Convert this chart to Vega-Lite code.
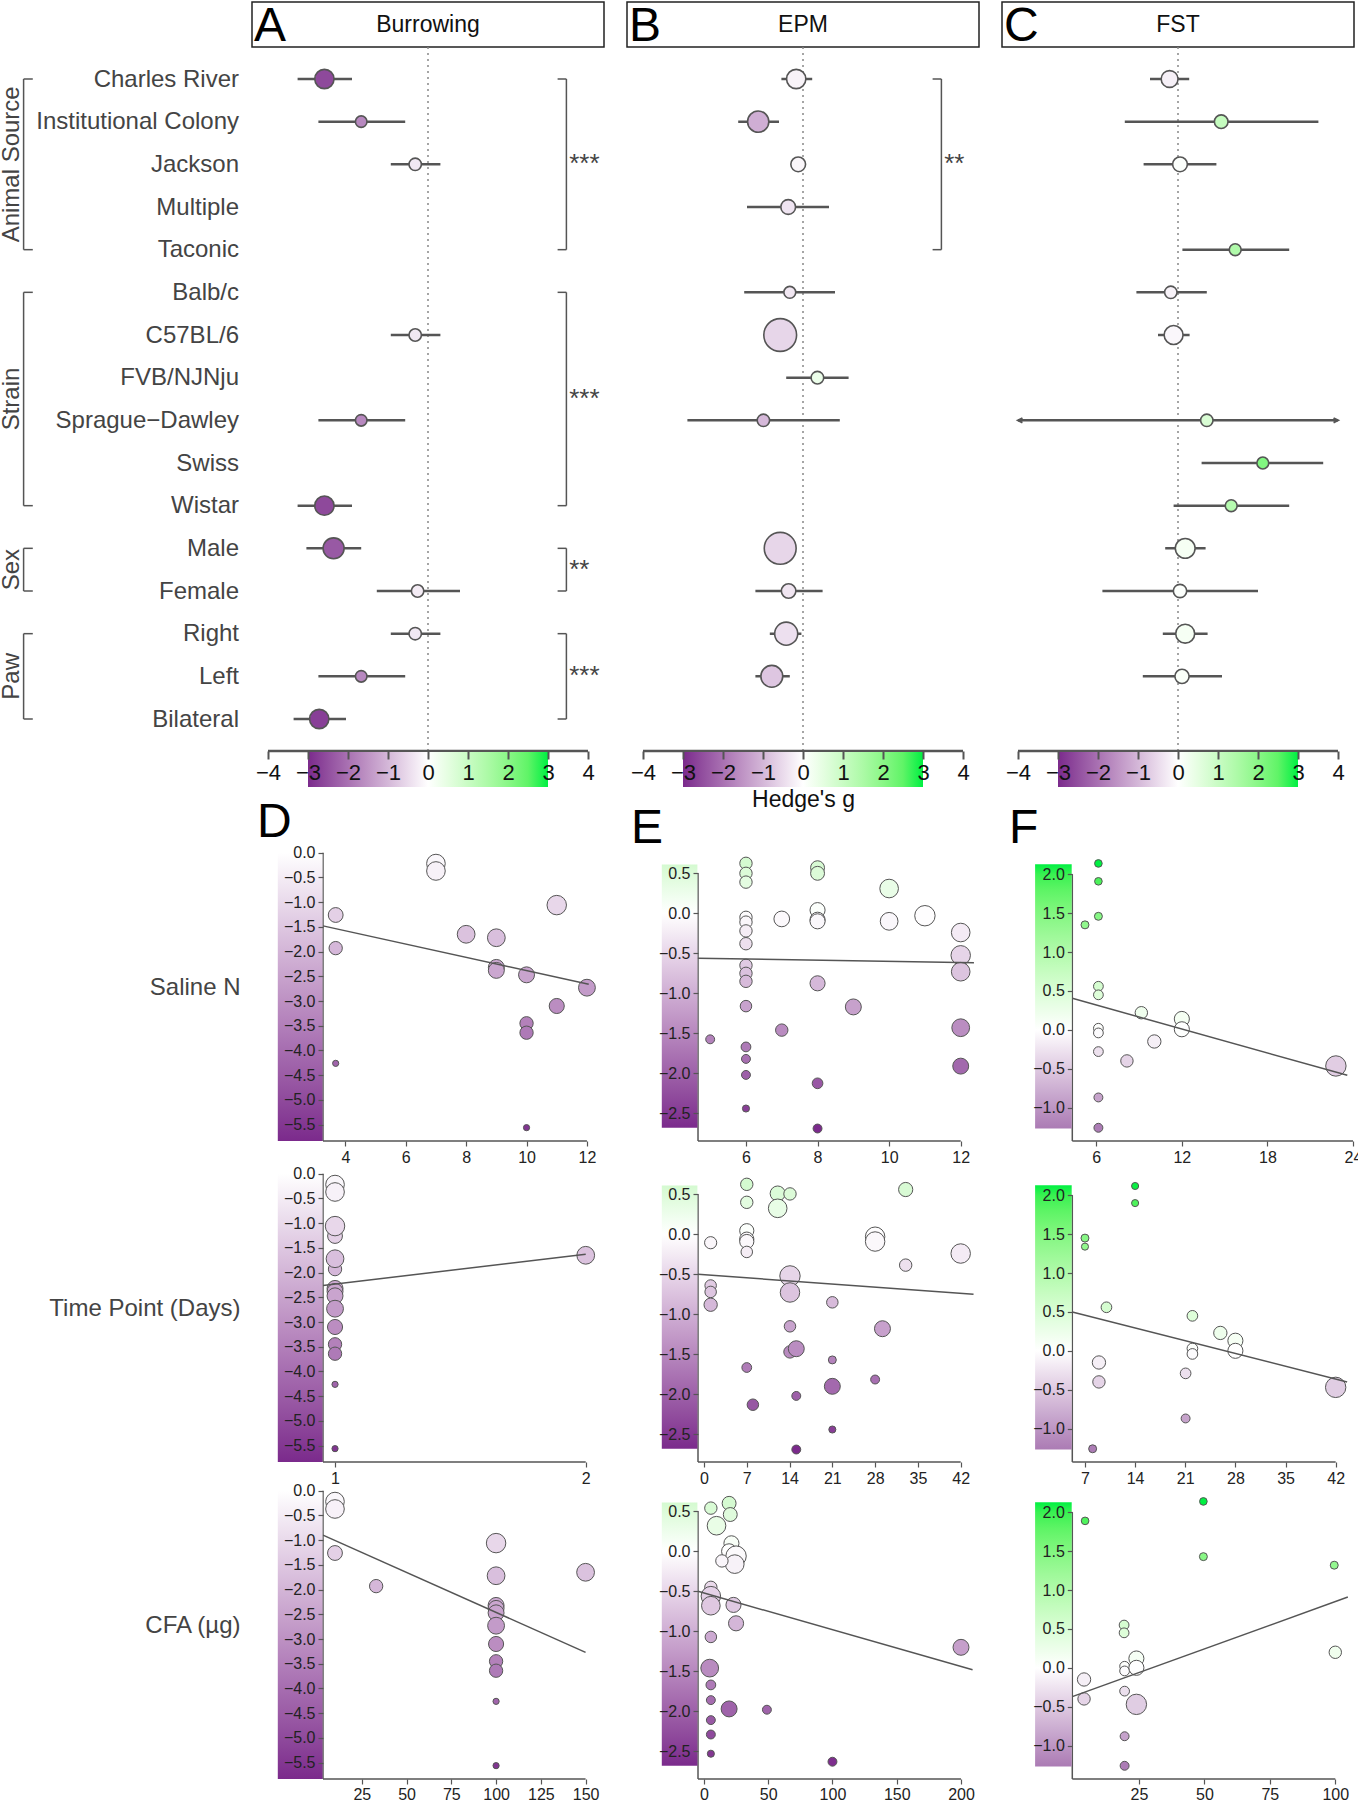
{
"$schema": "https://vega.github.io/schema/vega-lite/v6.json",
"background": "white",
"padding": {"left": 0, "top": 1, "right": 0, "bottom": 0},
"config": {"view": {"stroke": null}, "font": "Liberation Sans", "axis": {"grid": false, "zindex": 1, "tickCount": 30}, "legend": {"zindex": 0}},
"datasets": {
"headers": [{"panel":"A","title":"Burrowing"},{"panel":"B","title":"EPM"},{"panel":"C","title":"FST"}],
"forest": [
{"panel":"A","row":"Charles River","g":-2.59,"lo":-3.26,"hi":-1.9,"k":14},
{"panel":"A","row":"Institutional Colony","g":-1.67,"lo":-2.74,"hi":-0.57,"k":5},
{"panel":"A","row":"Jackson","g":-0.32,"lo":-0.93,"hi":0.31,"k":5.8},
{"panel":"A","row":"C57BL/6","g":-0.32,"lo":-0.93,"hi":0.31,"k":5.8},
{"panel":"A","row":"Sprague−Dawley","g":-1.67,"lo":-2.74,"hi":-0.57,"k":5},
{"panel":"A","row":"Wistar","g":-2.59,"lo":-3.26,"hi":-1.9,"k":14},
{"panel":"A","row":"Male","g":-2.36,"lo":-3.04,"hi":-1.67,"k":16.6},
{"panel":"A","row":"Female","g":-0.26,"lo":-1.28,"hi":0.8,"k":5.8},
{"panel":"A","row":"Right","g":-0.32,"lo":-0.93,"hi":0.31,"k":5.8},
{"panel":"A","row":"Left","g":-1.67,"lo":-2.74,"hi":-0.57,"k":5},
{"panel":"A","row":"Bilateral","g":-2.72,"lo":-3.36,"hi":-2.05,"k":14},
{"panel":"B","row":"Charles River","g":-0.17,"lo":-0.54,"hi":0.23,"k":14},
{"panel":"B","row":"Institutional Colony","g":-1.12,"lo":-1.62,"hi":-0.6,"k":17},
{"panel":"B","row":"Jackson","g":-0.12,"lo":-0.25,"hi":0.02,"k":8.2},
{"panel":"B","row":"Multiple","g":-0.37,"lo":-1.4,"hi":0.65,"k":8.2},
{"panel":"B","row":"Balb/c","g":-0.33,"lo":-1.47,"hi":0.8,"k":5.3},
{"panel":"B","row":"C57BL/6","g":-0.57,"lo":-0.75,"hi":-0.4,"k":40.6},
{"panel":"B","row":"FVB/NJNju","g":0.36,"lo":-0.42,"hi":1.14,"k":6},
{"panel":"B","row":"Sprague−Dawley","g":-0.99,"lo":-2.89,"hi":0.92,"k":5.8},
{"panel":"B","row":"Male","g":-0.57,"lo":-0.75,"hi":-0.4,"k":38.4},
{"panel":"B","row":"Female","g":-0.36,"lo":-1.19,"hi":0.49,"k":7.9},
{"panel":"B","row":"Right","g":-0.42,"lo":-0.83,"hi":-0.04,"k":20},
{"panel":"B","row":"Left","g":-0.78,"lo":-1.19,"hi":-0.33,"k":18},
{"panel":"C","row":"Charles River","g":-0.21,"lo":-0.7,"hi":0.28,"k":10.7},
{"panel":"C","row":"Institutional Colony","g":1.08,"lo":-1.33,"hi":3.51,"k":7},
{"panel":"C","row":"Jackson","g":0.05,"lo":-0.86,"hi":0.96,"k":8.2},
{"panel":"C","row":"Taconic","g":1.43,"lo":0.11,"hi":2.78,"k":5.3},
{"panel":"C","row":"Balb/c","g":-0.18,"lo":-1.04,"hi":0.72,"k":5.8},
{"panel":"C","row":"C57BL/6","g":-0.11,"lo":-0.5,"hi":0.29,"k":13.5},
{"panel":"C","row":"Sprague−Dawley","g":0.72,"lo":-4,"hi":4,"k":5.8},
{"panel":"C","row":"Swiss","g":2.12,"lo":0.59,"hi":3.63,"k":5.3},
{"panel":"C","row":"Wistar","g":1.33,"lo":-0.11,"hi":2.78,"k":5.3},
{"panel":"C","row":"Male","g":0.18,"lo":-0.32,"hi":0.69,"k":14.8},
{"panel":"C","row":"Female","g":0.05,"lo":-1.89,"hi":2.0,"k":6.7},
{"panel":"C","row":"Right","g":0.18,"lo":-0.38,"hi":0.74,"k":13.5},
{"panel":"C","row":"Left","g":0.1,"lo":-0.88,"hi":1.1,"k":7.6}
],
"brackets": [
{"panel":"A","group":"Animal Source","from":"Charles River","to":"Taconic","mid":"Jackson","stars":"***"},
{"panel":"A","group":"Strain","from":"Balb/c","to":"Wistar","mid":"FVB/NJNju","stars":"***"},
{"panel":"A","group":"Sex","from":"Male","to":"Female","mid":"Male","stars":"**"},
{"panel":"A","group":"Paw","from":"Right","to":"Bilateral","mid":"Left","stars":"***"},
{"panel":"B","group":"Animal Source","from":"Charles River","to":"Taconic","mid":"Jackson","stars":"**"}
],
"arrows": [
{"panel":"C","row":"Sprague−Dawley","x":-4,"side":"lo"},
{"panel":"C","row":"Sprague−Dawley","x":4,"side":"hi"}
],
"scatter": [
{"outcome":"Burrowing","moderator":"Saline N","x":7,"g":-0.22,"n":13.1},
{"outcome":"Burrowing","moderator":"Saline N","x":7,"g":-0.37,"n":13.1},
{"outcome":"Burrowing","moderator":"Saline N","x":3.68,"g":-1.26,"n":8.3},
{"outcome":"Burrowing","moderator":"Saline N","x":3.68,"g":-1.93,"n":6.7},
{"outcome":"Burrowing","moderator":"Saline N","x":3.68,"g":-4.26,"n":1.45},
{"outcome":"Burrowing","moderator":"Saline N","x":8,"g":-1.65,"n":11.9},
{"outcome":"Burrowing","moderator":"Saline N","x":9,"g":-1.72,"n":11.9},
{"outcome":"Burrowing","moderator":"Saline N","x":9,"g":-2.32,"n":9.6},
{"outcome":"Burrowing","moderator":"Saline N","x":9,"g":-2.38,"n":9.6},
{"outcome":"Burrowing","moderator":"Saline N","x":10,"g":-2.47,"n":9.6},
{"outcome":"Burrowing","moderator":"Saline N","x":10,"g":-3.45,"n":6.7},
{"outcome":"Burrowing","moderator":"Saline N","x":10,"g":-3.64,"n":6.7},
{"outcome":"Burrowing","moderator":"Saline N","x":10,"g":-5.56,"n":1.45},
{"outcome":"Burrowing","moderator":"Saline N","x":11,"g":-1.06,"n":14.3},
{"outcome":"Burrowing","moderator":"Saline N","x":11,"g":-3.1,"n":8.6},
{"outcome":"Burrowing","moderator":"Saline N","x":12,"g":-2.73,"n":10.7},
{"outcome":"Burrowing","moderator":"Time Point","x":1,"g":-0.22,"n":13.1},
{"outcome":"Burrowing","moderator":"Time Point","x":1,"g":-0.37,"n":13.1},
{"outcome":"Burrowing","moderator":"Time Point","x":1,"g":-1.26,"n":8.3},
{"outcome":"Burrowing","moderator":"Time Point","x":1,"g":-1.93,"n":6.7},
{"outcome":"Burrowing","moderator":"Time Point","x":1,"g":-4.26,"n":1.45},
{"outcome":"Burrowing","moderator":"Time Point","x":2,"g":-1.65,"n":11.9},
{"outcome":"Burrowing","moderator":"Time Point","x":1,"g":-1.72,"n":11.9},
{"outcome":"Burrowing","moderator":"Time Point","x":1,"g":-2.32,"n":9.6},
{"outcome":"Burrowing","moderator":"Time Point","x":1,"g":-2.38,"n":9.6},
{"outcome":"Burrowing","moderator":"Time Point","x":1,"g":-2.47,"n":9.6},
{"outcome":"Burrowing","moderator":"Time Point","x":1,"g":-3.45,"n":6.7},
{"outcome":"Burrowing","moderator":"Time Point","x":1,"g":-3.64,"n":6.7},
{"outcome":"Burrowing","moderator":"Time Point","x":1,"g":-5.56,"n":1.45},
{"outcome":"Burrowing","moderator":"Time Point","x":1,"g":-1.06,"n":14.3},
{"outcome":"Burrowing","moderator":"Time Point","x":1,"g":-3.1,"n":8.6},
{"outcome":"Burrowing","moderator":"Time Point","x":1,"g":-2.73,"n":10.7},
{"outcome":"Burrowing","moderator":"CFA","x":10,"g":-0.22,"n":13.1},
{"outcome":"Burrowing","moderator":"CFA","x":10,"g":-0.37,"n":13.1},
{"outcome":"Burrowing","moderator":"CFA","x":10,"g":-1.26,"n":8.3},
{"outcome":"Burrowing","moderator":"CFA","x":33,"g":-1.93,"n":6.7},
{"outcome":"Burrowing","moderator":"CFA","x":100,"g":-4.26,"n":1.45},
{"outcome":"Burrowing","moderator":"CFA","x":150,"g":-1.65,"n":11.9},
{"outcome":"Burrowing","moderator":"CFA","x":100,"g":-1.72,"n":11.9},
{"outcome":"Burrowing","moderator":"CFA","x":100,"g":-2.32,"n":9.6},
{"outcome":"Burrowing","moderator":"CFA","x":100,"g":-2.38,"n":9.6},
{"outcome":"Burrowing","moderator":"CFA","x":100,"g":-2.47,"n":9.6},
{"outcome":"Burrowing","moderator":"CFA","x":100,"g":-3.45,"n":6.7},
{"outcome":"Burrowing","moderator":"CFA","x":100,"g":-3.64,"n":6.7},
{"outcome":"Burrowing","moderator":"CFA","x":100,"g":-5.56,"n":1.45},
{"outcome":"Burrowing","moderator":"CFA","x":100,"g":-1.06,"n":14.3},
{"outcome":"Burrowing","moderator":"CFA","x":100,"g":-3.1,"n":8.6},
{"outcome":"Burrowing","moderator":"CFA","x":100,"g":-2.73,"n":10.7},
{"outcome":"EPM","moderator":"Saline N","x":6,"g":0.625,"n":5.8},
{"outcome":"EPM","moderator":"Saline N","x":6,"g":0.5,"n":5.8},
{"outcome":"EPM","moderator":"Saline N","x":6,"g":0.39,"n":5.8},
{"outcome":"EPM","moderator":"Saline N","x":6,"g":-0.05,"n":5.8},
{"outcome":"EPM","moderator":"Saline N","x":6,"g":-0.11,"n":5.8},
{"outcome":"EPM","moderator":"Saline N","x":6,"g":-0.22,"n":5.8},
{"outcome":"EPM","moderator":"Saline N","x":6,"g":-0.38,"n":5.8},
{"outcome":"EPM","moderator":"Saline N","x":6,"g":-0.65,"n":5.8},
{"outcome":"EPM","moderator":"Saline N","x":6,"g":-0.75,"n":5.8},
{"outcome":"EPM","moderator":"Saline N","x":6,"g":-0.85,"n":5.8},
{"outcome":"EPM","moderator":"Saline N","x":6,"g":-1.16,"n":5},
{"outcome":"EPM","moderator":"Saline N","x":6,"g":-1.67,"n":3.6},
{"outcome":"EPM","moderator":"Saline N","x":6,"g":-1.82,"n":3},
{"outcome":"EPM","moderator":"Saline N","x":6,"g":-2.02,"n":3},
{"outcome":"EPM","moderator":"Saline N","x":6,"g":-2.44,"n":1.9},
{"outcome":"EPM","moderator":"Saline N","x":5,"g":-1.575,"n":3},
{"outcome":"EPM","moderator":"Saline N","x":7,"g":-0.07,"n":9.3},
{"outcome":"EPM","moderator":"Saline N","x":7,"g":-1.46,"n":5.8},
{"outcome":"EPM","moderator":"Saline N","x":8,"g":0.57,"n":7.3},
{"outcome":"EPM","moderator":"Saline N","x":8,"g":0.5,"n":7.3},
{"outcome":"EPM","moderator":"Saline N","x":8,"g":0.04,"n":8.6},
{"outcome":"EPM","moderator":"Saline N","x":8,"g":-0.08,"n":8.6},
{"outcome":"EPM","moderator":"Saline N","x":8,"g":-0.1,"n":8.6},
{"outcome":"EPM","moderator":"Saline N","x":8,"g":-0.875,"n":8.6},
{"outcome":"EPM","moderator":"Saline N","x":8,"g":-2.125,"n":4.3},
{"outcome":"EPM","moderator":"Saline N","x":8,"g":-2.69,"n":3},
{"outcome":"EPM","moderator":"Saline N","x":9,"g":-1.17,"n":9.6},
{"outcome":"EPM","moderator":"Saline N","x":10,"g":0.31,"n":13.1},
{"outcome":"EPM","moderator":"Saline N","x":10,"g":-0.1,"n":11.9},
{"outcome":"EPM","moderator":"Saline N","x":11,"g":-0.03,"n":15.7},
{"outcome":"EPM","moderator":"Saline N","x":12,"g":-0.24,"n":13.1},
{"outcome":"EPM","moderator":"Saline N","x":12,"g":-0.525,"n":14.3},
{"outcome":"EPM","moderator":"Saline N","x":12,"g":-0.73,"n":13.1},
{"outcome":"EPM","moderator":"Saline N","x":12,"g":-1.43,"n":11.9},
{"outcome":"EPM","moderator":"Saline N","x":12,"g":-1.91,"n":9.6},
{"outcome":"EPM","moderator":"Time Point","x":1.09,"g":-0.105,"n":5.6},
{"outcome":"EPM","moderator":"Time Point","x":1.09,"g":-0.64,"n":5},
{"outcome":"EPM","moderator":"Time Point","x":1.09,"g":-0.72,"n":5},
{"outcome":"EPM","moderator":"Time Point","x":1.09,"g":-0.88,"n":6.7},
{"outcome":"EPM","moderator":"Time Point","x":7,"g":0.625,"n":5.8},
{"outcome":"EPM","moderator":"Time Point","x":7,"g":0.4,"n":5.8},
{"outcome":"EPM","moderator":"Time Point","x":7,"g":0.045,"n":7.6},
{"outcome":"EPM","moderator":"Time Point","x":7,"g":-0.06,"n":7.6},
{"outcome":"EPM","moderator":"Time Point","x":7,"g":-0.09,"n":7.6},
{"outcome":"EPM","moderator":"Time Point","x":7,"g":-0.22,"n":5},
{"outcome":"EPM","moderator":"Time Point","x":7,"g":-1.665,"n":3.6},
{"outcome":"EPM","moderator":"Time Point","x":8,"g":-2.13,"n":5},
{"outcome":"EPM","moderator":"Time Point","x":12.06,"g":0.51,"n":8.6},
{"outcome":"EPM","moderator":"Time Point","x":12.06,"g":0.325,"n":13.1},
{"outcome":"EPM","moderator":"Time Point","x":14.07,"g":0.505,"n":5.8},
{"outcome":"EPM","moderator":"Time Point","x":14.07,"g":-0.52,"n":15.7},
{"outcome":"EPM","moderator":"Time Point","x":14.07,"g":-0.727,"n":14.3},
{"outcome":"EPM","moderator":"Time Point","x":14.07,"g":-1.15,"n":5},
{"outcome":"EPM","moderator":"Time Point","x":14.07,"g":-1.47,"n":5.8},
{"outcome":"EPM","moderator":"Time Point","x":15.1,"g":-1.43,"n":9.6},
{"outcome":"EPM","moderator":"Time Point","x":15.1,"g":-2.02,"n":3},
{"outcome":"EPM","moderator":"Time Point","x":15.1,"g":-2.69,"n":3},
{"outcome":"EPM","moderator":"Time Point","x":21,"g":-0.85,"n":5},
{"outcome":"EPM","moderator":"Time Point","x":21,"g":-1.57,"n":2.4},
{"outcome":"EPM","moderator":"Time Point","x":21,"g":-1.9,"n":9.6},
{"outcome":"EPM","moderator":"Time Point","x":21,"g":-2.44,"n":1.9},
{"outcome":"EPM","moderator":"Time Point","x":28,"g":-1.815,"n":3},
{"outcome":"EPM","moderator":"Time Point","x":28,"g":-0.03,"n":14.3},
{"outcome":"EPM","moderator":"Time Point","x":28,"g":-0.09,"n":14.3},
{"outcome":"EPM","moderator":"Time Point","x":29.2,"g":-1.18,"n":9.6},
{"outcome":"EPM","moderator":"Time Point","x":33,"g":0.56,"n":7.6},
{"outcome":"EPM","moderator":"Time Point","x":33,"g":-0.385,"n":5.8},
{"outcome":"EPM","moderator":"Time Point","x":42,"g":-0.24,"n":14.3},
{"outcome":"EPM","moderator":"CFA","x":5.4,"g":0.54,"n":5.8},
{"outcome":"EPM","moderator":"CFA","x":19.6,"g":0.6,"n":7.3},
{"outcome":"EPM","moderator":"CFA","x":9.8,"g":0.32,"n":13.1},
{"outcome":"EPM","moderator":"CFA","x":20.5,"g":0.46,"n":7.3},
{"outcome":"EPM","moderator":"CFA","x":21.4,"g":0.1,"n":8.6},
{"outcome":"EPM","moderator":"CFA","x":19.6,"g":0.0,"n":8.6},
{"outcome":"EPM","moderator":"CFA","x":25,"g":-0.06,"n":15.7},
{"outcome":"EPM","moderator":"CFA","x":24,"g":-0.16,"n":13.1},
{"outcome":"EPM","moderator":"CFA","x":14,"g":-0.12,"n":5.8},
{"outcome":"EPM","moderator":"CFA","x":5.4,"g":-0.45,"n":5.8},
{"outcome":"EPM","moderator":"CFA","x":5.4,"g":-0.56,"n":14.3},
{"outcome":"EPM","moderator":"CFA","x":5.4,"g":-0.68,"n":13.1},
{"outcome":"EPM","moderator":"CFA","x":23,"g":-0.67,"n":8.6},
{"outcome":"EPM","moderator":"CFA","x":25,"g":-0.9,"n":8.6},
{"outcome":"EPM","moderator":"CFA","x":5.4,"g":-1.07,"n":5},
{"outcome":"EPM","moderator":"CFA","x":4.5,"g":-1.46,"n":11.9},
{"outcome":"EPM","moderator":"CFA","x":5.4,"g":-1.67,"n":3.6},
{"outcome":"EPM","moderator":"CFA","x":5.4,"g":-1.86,"n":3},
{"outcome":"EPM","moderator":"CFA","x":19.6,"g":-1.97,"n":9.6},
{"outcome":"EPM","moderator":"CFA","x":5.4,"g":-2.11,"n":3},
{"outcome":"EPM","moderator":"CFA","x":5.4,"g":-2.29,"n":3},
{"outcome":"EPM","moderator":"CFA","x":5.4,"g":-2.53,"n":1.9},
{"outcome":"EPM","moderator":"CFA","x":49,"g":-1.98,"n":3},
{"outcome":"EPM","moderator":"CFA","x":100,"g":-2.63,"n":3},
{"outcome":"EPM","moderator":"CFA","x":200,"g":-1.2,"n":9.6},
{"outcome":"FST","moderator":"Saline N","x":6.15,"g":2.14,"n":2.2},
{"outcome":"FST","moderator":"Saline N","x":6.15,"g":1.91,"n":2.2},
{"outcome":"FST","moderator":"Saline N","x":6.15,"g":1.46,"n":2.4},
{"outcome":"FST","moderator":"Saline N","x":5.21,"g":1.35,"n":2.4},
{"outcome":"FST","moderator":"Saline N","x":6.15,"g":0.56,"n":3.6},
{"outcome":"FST","moderator":"Saline N","x":6.15,"g":0.45,"n":3.6},
{"outcome":"FST","moderator":"Saline N","x":6.15,"g":0.02,"n":3.6},
{"outcome":"FST","moderator":"Saline N","x":6.15,"g":-0.04,"n":3.6},
{"outcome":"FST","moderator":"Saline N","x":6.15,"g":-0.28,"n":3.6},
{"outcome":"FST","moderator":"Saline N","x":6.15,"g":-0.87,"n":3},
{"outcome":"FST","moderator":"Saline N","x":6.15,"g":-1.26,"n":3},
{"outcome":"FST","moderator":"Saline N","x":8.15,"g":-0.4,"n":5.8},
{"outcome":"FST","moderator":"Saline N","x":9.16,"g":0.22,"n":5.8},
{"outcome":"FST","moderator":"Saline N","x":10.07,"g":-0.15,"n":6.7},
{"outcome":"FST","moderator":"Saline N","x":12,"g":0.14,"n":8.6},
{"outcome":"FST","moderator":"Saline N","x":12,"g":0.007,"n":8.6},
{"outcome":"FST","moderator":"Saline N","x":22.8,"g":-0.465,"n":15.7},
{"outcome":"FST","moderator":"Time Point","x":7,"g":1.45,"n":2.4},
{"outcome":"FST","moderator":"Time Point","x":7,"g":1.34,"n":1.9},
{"outcome":"FST","moderator":"Time Point","x":14,"g":2.12,"n":1.9},
{"outcome":"FST","moderator":"Time Point","x":14,"g":1.9,"n":1.9},
{"outcome":"FST","moderator":"Time Point","x":10,"g":0.56,"n":4.3},
{"outcome":"FST","moderator":"Time Point","x":8.95,"g":-0.15,"n":6.7},
{"outcome":"FST","moderator":"Time Point","x":8.95,"g":-0.4,"n":5.8},
{"outcome":"FST","moderator":"Time Point","x":8.07,"g":-1.26,"n":2.4},
{"outcome":"FST","moderator":"Time Point","x":22,"g":0.45,"n":4.3},
{"outcome":"FST","moderator":"Time Point","x":22,"g":0.03,"n":4.3},
{"outcome":"FST","moderator":"Time Point","x":22,"g":-0.04,"n":4.3},
{"outcome":"FST","moderator":"Time Point","x":21.05,"g":-0.29,"n":4.3},
{"outcome":"FST","moderator":"Time Point","x":21.05,"g":-0.87,"n":3},
{"outcome":"FST","moderator":"Time Point","x":25.9,"g":0.23,"n":6.7},
{"outcome":"FST","moderator":"Time Point","x":28,"g":0.13,"n":8.6},
{"outcome":"FST","moderator":"Time Point","x":28,"g":0.0,"n":8.6},
{"outcome":"FST","moderator":"Time Point","x":42,"g":-0.47,"n":15.7},
{"outcome":"FST","moderator":"CFA","x":49.6,"g":2.14,"n":2.2},
{"outcome":"FST","moderator":"CFA","x":4.4,"g":1.89,"n":2.2},
{"outcome":"FST","moderator":"CFA","x":49.6,"g":1.43,"n":2.4},
{"outcome":"FST","moderator":"CFA","x":99.6,"g":1.32,"n":2.4},
{"outcome":"FST","moderator":"CFA","x":19.3,"g":0.55,"n":3.6},
{"outcome":"FST","moderator":"CFA","x":19.3,"g":0.45,"n":3.6},
{"outcome":"FST","moderator":"CFA","x":19.5,"g":0.02,"n":3.6},
{"outcome":"FST","moderator":"CFA","x":19.5,"g":-0.04,"n":3.6},
{"outcome":"FST","moderator":"CFA","x":19.5,"g":-0.3,"n":3.6},
{"outcome":"FST","moderator":"CFA","x":19.5,"g":-0.88,"n":3},
{"outcome":"FST","moderator":"CFA","x":19.5,"g":-1.26,"n":3},
{"outcome":"FST","moderator":"CFA","x":4,"g":-0.4,"n":5.8},
{"outcome":"FST","moderator":"CFA","x":100,"g":0.2,"n":5.8},
{"outcome":"FST","moderator":"CFA","x":4,"g":-0.15,"n":6.7},
{"outcome":"FST","moderator":"CFA","x":24,"g":0.12,"n":8.6},
{"outcome":"FST","moderator":"CFA","x":24,"g":0.0,"n":8.6},
{"outcome":"FST","moderator":"CFA","x":24,"g":-0.47,"n":15.7}
],
"fits": [
{"outcome":"Burrowing","moderator":"Saline N","x":3.26,"g":-1.48},
{"outcome":"Burrowing","moderator":"Saline N","x":12.06,"g":-2.66},
{"outcome":"Burrowing","moderator":"Time Point","x":0.952,"g":-2.26},
{"outcome":"Burrowing","moderator":"Time Point","x":2,"g":-1.63},
{"outcome":"Burrowing","moderator":"CFA","x":3.3,"g":-0.9},
{"outcome":"Burrowing","moderator":"CFA","x":150,"g":-3.27},
{"outcome":"EPM","moderator":"Saline N","x":4.65,"g":-0.5625},
{"outcome":"EPM","moderator":"Saline N","x":12.37,"g":-0.617},
{"outcome":"EPM","moderator":"Time Point","x":-0.98,"g":-0.5},
{"outcome":"EPM","moderator":"Time Point","x":44.1,"g":-0.75},
{"outcome":"EPM","moderator":"CFA","x":-4.6,"g":-0.5},
{"outcome":"EPM","moderator":"CFA","x":209,"g":-1.48},
{"outcome":"FST","moderator":"Saline N","x":4.32,"g":0.405},
{"outcome":"FST","moderator":"Saline N","x":23.6,"g":-0.585},
{"outcome":"FST","moderator":"Time Point","x":5.23,"g":0.5},
{"outcome":"FST","moderator":"Time Point","x":43.6,"g":-0.4},
{"outcome":"FST","moderator":"CFA","x":-0.49,"g":-0.37},
{"outcome":"FST","moderator":"CFA","x":104.8,"g":0.91}
]
},
"columns": 3,
"spacing": {"row": 0, "column": 23},
"bounds": "flush",
"align": {"row": "each", "column": "all"},
"resolve": {"scale": {"fill": "independent", "size": "independent", "shape": "independent"}, "legend": {"fill": "independent", "size": "independent", "shape": "independent"}},
"concat": [
{"width": 352, "height": 45, "view": {"stroke": "#222", "strokeWidth": 1.5}, "data": {"name": "headers"}, "transform": [{"filter": "datum.panel === 'A'"}],
 "layer": [
  {"mark": {"type": "text", "align": "left", "baseline": "middle", "fontSize": 48, "dx": 2, "dy": 2, "color": "#000"}, "encoding": {"x": {"datum": -4.4, "scale": {"domain": [-4.4, 4.4], "nice": false, "zero": false}, "axis": null}, "text": {"field": "panel"}}},
  {"mark": {"type": "text", "align": "center", "baseline": "middle", "fontSize": 23, "color": "#111"}, "encoding": {"x": {"datum": 0}, "text": {"field": "title"}}}
 ]},
{"width": 352, "height": 45, "view": {"stroke": "#222", "strokeWidth": 1.5}, "data": {"name": "headers"}, "transform": [{"filter": "datum.panel === 'B'"}],
 "layer": [
  {"mark": {"type": "text", "align": "left", "baseline": "middle", "fontSize": 48, "dx": 2, "dy": 2, "color": "#000"}, "encoding": {"x": {"datum": -4.4, "scale": {"domain": [-4.4, 4.4], "nice": false, "zero": false}, "axis": null}, "text": {"field": "panel"}}},
  {"mark": {"type": "text", "align": "center", "baseline": "middle", "fontSize": 23, "color": "#111"}, "encoding": {"x": {"datum": 0}, "text": {"field": "title"}}}
 ]},
{"width": 352, "height": 45, "view": {"stroke": "#222", "strokeWidth": 1.5}, "data": {"name": "headers"}, "transform": [{"filter": "datum.panel === 'C'"}],
 "layer": [
  {"mark": {"type": "text", "align": "left", "baseline": "middle", "fontSize": 48, "dx": 2, "dy": 2, "color": "#000"}, "encoding": {"x": {"datum": -4.4, "scale": {"domain": [-4.4, 4.4], "nice": false, "zero": false}, "axis": null}, "text": {"field": "panel"}}},
  {"mark": {"type": "text", "align": "center", "baseline": "middle", "fontSize": 23, "color": "#111"}, "encoding": {"x": {"datum": 0}, "text": {"field": "title"}}}
 ]},
{"width": 352, "height": 704,
 "resolve": {"scale": {"y": "independent"}},
 "layer": [
 {"layer": [
  {"data": {"values": [{}]}, "mark": {"type": "rule", "stroke": "#888", "strokeWidth": 1.5, "strokeDash": [2, 4]}, "encoding": {"x": {"datum": 0, "type": "quantitative", "scale": {"domain": [-4.4, 4.4], "nice": false, "zero": false}, "axis": {"values": [-4,-3,-2,-1,0,1,2,3,4], "format": "d", "tickCount": 30, "title": null, "domain": false, "tickColor": "#555", "tickWidth": 2, "tickSize": 8, "labelFontSize": 22, "labelColor": "#111", "labelPadding": 3, "zindex": 1, "labelFlush": false, "labelOverlap": false}}}},
  {"data": {"name": "forest"}, "transform": [{"filter": "datum.panel === 'A'"}], "mark": {"type": "rule", "stroke": "#555", "strokeWidth": 2.5},
   "encoding": {"x": {"field": "lo", "type": "quantitative"}, "x2": {"field": "hi"},
    "y": {"field": "row", "type": "nominal", "scale": {"type": "point", "domain": ["Charles River","Institutional Colony","Jackson","Multiple","Taconic","Balb/c","C57BL/6","FVB/NJNju","Sprague−Dawley","Swiss","Wistar","Male","Female","Right","Left","Bilateral"], "padding": 0.75}, "axis": {"title": null, "domain": false, "ticks": false, "labelFontSize": 24, "labelColor": "#444", "labelPadding": 13.5, "labelLimit": 400}}}},
  {"data": {"name": "forest"}, "transform": [{"filter": "datum.panel === 'A'"}], "mark": {"type": "circle", "stroke": "#555", "strokeWidth": 1.6, "opacity": 1},
   "encoding": {"x": {"field": "g", "type": "quantitative"}, "y": {"field": "row", "type": "nominal"},
    "fill": {"field": "g", "type": "quantitative", "scale": {"domain": [-3, 0, 3], "range": ["#7b2a8c", "#ffffff", "#00f042"], "interpolate": "lab", "clamp": true}, "legend": {"orient": "none", "direction": "horizontal", "legendX": 56, "legendY": 705, "gradientLength": 240, "gradientThickness": 35, "title": null, "labelExpr": "''", "gradientStrokeWidth": 0, "padding": 0, "zindex": 0}},
    "size": {"field": "k", "type": "quantitative", "scale": {"domain": [0, 40], "range": [0, 1060]}, "legend": null}}},
  {"data": {"name": "brackets"}, "transform": [{"filter": "datum.panel === 'A'"}], "mark": {"type": "rule", "stroke": "#555", "strokeWidth": 1.5}, "encoding": {"x": {"datum": -10.11}, "y": {"field": "from", "type": "nominal"}, "y2": {"field": "to"}}},
  {"data": {"name": "brackets"}, "transform": [{"filter": "datum.panel === 'A'"}], "mark": {"type": "rule", "stroke": "#555", "strokeWidth": 1.5}, "encoding": {"x": {"datum": -10.11}, "x2": {"datum": -9.88}, "y": {"field": "from", "type": "nominal"}}},
  {"data": {"name": "brackets"}, "transform": [{"filter": "datum.panel === 'A'"}], "mark": {"type": "rule", "stroke": "#555", "strokeWidth": 1.5}, "encoding": {"x": {"datum": -10.11}, "x2": {"datum": -9.88}, "y": {"field": "to", "type": "nominal"}}},
  {"data": {"name": "brackets"}, "transform": [{"filter": "datum.panel === 'A' && (datum.group === 'Animal Source' || datum.group === 'Paw')"}], "mark": {"type": "text", "angle": 270, "fontSize": 24, "color": "#444", "align": "center", "baseline": "middle"}, "encoding": {"x": {"datum": -10.4}, "y": {"field": "mid", "type": "nominal"}, "text": {"field": "group"}}},
  {"data": {"name": "brackets"}, "transform": [{"filter": "datum.panel === 'A' && (datum.group === 'Strain' || datum.group === 'Sex')"}], "mark": {"type": "text", "angle": 270, "fontSize": 24, "color": "#444", "align": "center", "baseline": "middle", "dx": -21.33}, "encoding": {"x": {"datum": -10.4}, "y": {"field": "mid", "type": "nominal"}, "text": {"field": "group"}}},
  {"data": {"name": "brackets"}, "transform": [{"filter": "datum.panel === 'A'"}], "mark": {"type": "rule", "stroke": "#555", "strokeWidth": 1.5}, "encoding": {"x": {"datum": 3.46}, "y": {"field": "from", "type": "nominal"}, "y2": {"field": "to"}}},
  {"data": {"name": "brackets"}, "transform": [{"filter": "datum.panel === 'A'"}], "mark": {"type": "rule", "stroke": "#555", "strokeWidth": 1.5}, "encoding": {"x": {"datum": 3.24}, "x2": {"datum": 3.46}, "y": {"field": "from", "type": "nominal"}}},
  {"data": {"name": "brackets"}, "transform": [{"filter": "datum.panel === 'A'"}], "mark": {"type": "rule", "stroke": "#555", "strokeWidth": 1.5}, "encoding": {"x": {"datum": 3.24}, "x2": {"datum": 3.46}, "y": {"field": "to", "type": "nominal"}}},
  {"data": {"name": "brackets"}, "transform": [{"filter": "datum.panel === 'A' && (datum.group === 'Animal Source' || datum.group === 'Paw')"}], "mark": {"type": "text", "fontSize": 26, "color": "#444", "align": "left", "baseline": "middle", "dy": 0}, "encoding": {"x": {"datum": 3.53}, "y": {"field": "mid", "type": "nominal"}, "text": {"field": "stars"}}},
  {"data": {"name": "brackets"}, "transform": [{"filter": "datum.panel === 'A' && (datum.group === 'Strain' || datum.group === 'Sex')"}], "mark": {"type": "text", "fontSize": 26, "color": "#444", "align": "left", "baseline": "middle", "dy": 21.3}, "encoding": {"x": {"datum": 3.53}, "y": {"field": "mid", "type": "nominal"}, "text": {"field": "stars"}}}
 ]},
 {"data": {"values": [{}]}, "mark": {"type": "rule", "stroke": "#555", "strokeWidth": 2.5}, "encoding": {"x": {"datum": -4}, "x2": {"datum": 4}, "y": {"datum": 0, "type": "quantitative", "scale": {"domain": [0, 1]}, "axis": null}}}
 ]},
{"width": 352, "height": 704,
 "resolve": {"scale": {"y": "independent"}},
 "layer": [
 {"layer": [
  {"data": {"values": [{}]}, "mark": {"type": "rule", "stroke": "#888", "strokeWidth": 1.5, "strokeDash": [2, 4]}, "encoding": {"x": {"datum": 0, "type": "quantitative", "scale": {"domain": [-4.4, 4.4], "nice": false, "zero": false}, "axis": {"values": [-4,-3,-2,-1,0,1,2,3,4], "format": "d", "tickCount": 30, "title": "Hedge's g", "titleFontSize": 23, "titleFontWeight": "normal", "titleColor": "#111", "titlePadding": 5, "domain": false, "tickColor": "#555", "tickWidth": 2, "tickSize": 8, "labelFontSize": 22, "labelColor": "#111", "labelPadding": 3, "zindex": 1, "labelFlush": false, "labelOverlap": false}}}},
  {"data": {"name": "forest"}, "transform": [{"filter": "datum.panel === 'B'"}], "mark": {"type": "rule", "stroke": "#555", "strokeWidth": 2.5},
   "encoding": {"x": {"field": "lo", "type": "quantitative"}, "x2": {"field": "hi"},
    "y": {"field": "row", "type": "nominal", "scale": {"type": "point", "domain": ["Charles River","Institutional Colony","Jackson","Multiple","Taconic","Balb/c","C57BL/6","FVB/NJNju","Sprague−Dawley","Swiss","Wistar","Male","Female","Right","Left","Bilateral"], "padding": 0.75}, "axis": null}}},
  {"data": {"name": "forest"}, "transform": [{"filter": "datum.panel === 'B'"}], "mark": {"type": "circle", "stroke": "#555", "strokeWidth": 1.6, "opacity": 1},
   "encoding": {"x": {"field": "g", "type": "quantitative"}, "y": {"field": "row", "type": "nominal"},
    "fill": {"field": "g", "type": "quantitative", "scale": {"domain": [-3, 0, 3], "range": ["#7b2a8c", "#ffffff", "#00f042"], "interpolate": "lab", "clamp": true}, "legend": {"orient": "none", "direction": "horizontal", "legendX": 56, "legendY": 705, "gradientLength": 240, "gradientThickness": 35, "title": null, "labelExpr": "''", "gradientStrokeWidth": 0, "padding": 0, "zindex": 0}},
    "size": {"field": "k", "type": "quantitative", "scale": {"domain": [0, 40], "range": [0, 1060]}, "legend": null}}},
  {"data": {"name": "brackets"}, "transform": [{"filter": "datum.panel === 'B'"}], "mark": {"type": "rule", "stroke": "#555", "strokeWidth": 1.5}, "encoding": {"x": {"datum": 3.46}, "y": {"field": "from", "type": "nominal"}, "y2": {"field": "to"}}},
  {"data": {"name": "brackets"}, "transform": [{"filter": "datum.panel === 'B'"}], "mark": {"type": "rule", "stroke": "#555", "strokeWidth": 1.5}, "encoding": {"x": {"datum": 3.24}, "x2": {"datum": 3.46}, "y": {"field": "from", "type": "nominal"}}},
  {"data": {"name": "brackets"}, "transform": [{"filter": "datum.panel === 'B'"}], "mark": {"type": "rule", "stroke": "#555", "strokeWidth": 1.5}, "encoding": {"x": {"datum": 3.24}, "x2": {"datum": 3.46}, "y": {"field": "to", "type": "nominal"}}},
  {"data": {"name": "brackets"}, "transform": [{"filter": "datum.panel === 'B'"}], "mark": {"type": "text", "fontSize": 26, "color": "#444", "align": "left", "baseline": "middle", "dy": 0}, "encoding": {"x": {"datum": 3.53}, "y": {"field": "mid", "type": "nominal"}, "text": {"field": "stars"}}}
 ]},
 {"data": {"values": [{}]}, "mark": {"type": "rule", "stroke": "#555", "strokeWidth": 2.5}, "encoding": {"x": {"datum": -4}, "x2": {"datum": 4}, "y": {"datum": 0, "type": "quantitative", "scale": {"domain": [0, 1]}, "axis": null}}}
 ]},
{"width": 352, "height": 704,
 "resolve": {"scale": {"y": "independent"}},
 "layer": [
 {"layer": [
  {"data": {"values": [{}]}, "mark": {"type": "rule", "stroke": "#888", "strokeWidth": 1.5, "strokeDash": [2, 4]}, "encoding": {"x": {"datum": 0, "type": "quantitative", "scale": {"domain": [-4.4, 4.4], "nice": false, "zero": false}, "axis": {"values": [-4,-3,-2,-1,0,1,2,3,4], "format": "d", "tickCount": 30, "title": null, "domain": false, "tickColor": "#555", "tickWidth": 2, "tickSize": 8, "labelFontSize": 22, "labelColor": "#111", "labelPadding": 3, "zindex": 1, "labelFlush": false, "labelOverlap": false}}}},
  {"data": {"name": "forest"}, "transform": [{"filter": "datum.panel === 'C'"}], "mark": {"type": "rule", "stroke": "#555", "strokeWidth": 2.5},
   "encoding": {"x": {"field": "lo", "type": "quantitative"}, "x2": {"field": "hi"},
    "y": {"field": "row", "type": "nominal", "scale": {"type": "point", "domain": ["Charles River","Institutional Colony","Jackson","Multiple","Taconic","Balb/c","C57BL/6","FVB/NJNju","Sprague−Dawley","Swiss","Wistar","Male","Female","Right","Left","Bilateral"], "padding": 0.75}, "axis": null}}},
  {"data": {"name": "arrows"}, "mark": {"type": "point", "filled": false, "stroke": "#555", "strokeWidth": 2, "opacity": 1, "size": 80},
   "encoding": {"x": {"field": "x", "type": "quantitative"}, "y": {"field": "row", "type": "nominal"}, "shape": {"field": "side", "type": "nominal", "scale": {"domain": ["lo", "hi"], "range": ["M1,-0.5L0,0L1,0.5", "M-1,-0.5L0,0L-1,0.5"]}, "legend": null}}},
  {"data": {"name": "forest"}, "transform": [{"filter": "datum.panel === 'C'"}], "mark": {"type": "circle", "stroke": "#555", "strokeWidth": 1.6, "opacity": 1},
   "encoding": {"x": {"field": "g", "type": "quantitative"}, "y": {"field": "row", "type": "nominal"},
    "fill": {"field": "g", "type": "quantitative", "scale": {"domain": [-3, 0, 3], "range": ["#7b2a8c", "#ffffff", "#00f042"], "interpolate": "lab", "clamp": true}, "legend": {"orient": "none", "direction": "horizontal", "legendX": 56, "legendY": 705, "gradientLength": 240, "gradientThickness": 35, "title": null, "labelExpr": "''", "gradientStrokeWidth": 0, "padding": 0, "zindex": 0}},
    "size": {"field": "k", "type": "quantitative", "scale": {"domain": [0, 40], "range": [0, 1060]}, "legend": null}}}
 ]},
 {"data": {"values": [{}]}, "mark": {"type": "rule", "stroke": "#555", "strokeWidth": 2.5}, "encoding": {"x": {"datum": -4}, "x2": {"datum": 4}, "y": {"datum": 0, "type": "quantitative", "scale": {"domain": [0, 1]}, "axis": null}}}
 ]},
{"width": 10, "height": 100, "data": {"values": [{}]}, "mark": {"type": "point", "opacity": 0}},
{"width": 10, "height": 100, "data": {"values": [{}]}, "mark": {"type": "point", "opacity": 0}},
{"width": 10, "height": 100, "data": {"values": [{}]}, "mark": {"type": "point", "opacity": 0}},
{"width": 352, "height": 290,
 "title": {"text": "D", "anchor": "start", "frame": "group", "fontSize": 48, "fontWeight": "normal", "color": "#000", "dx": 5, "dy": 43, "offset": 3, "baseline": "alphabetic"},
 "layer": [
  {"data": {"values": [{}]}, "mark": {"type": "rule", "stroke": "#555", "strokeWidth": 1.5}, "encoding": {"x": {"datum": 3.26, "type": "quantitative", "scale": {"domain": [0.909, 12.565], "nice": false, "zero": false}, "axis": {"values": [4,6,8,10,12], "format": "d", "tickCount": 30, "title": null, "domain": false, "tickColor": "#555", "tickWidth": 1.2, "tickSize": 5, "labelFontSize": 16, "labelColor": "#222", "labelPadding": 3, "zindex": 1, "labelFlush": false, "labelOverlap": false}}, "y": {"datum": 0, "type": "quantitative", "scale": {"domain": [-5.83, 0.034], "nice": false, "zero": false}, "axis": {"values": [0,-0.5,-1,-1.5,-2,-2.5,-3,-3.5,-4,-4.5,-5,-5.5], "tickCount": 30, "format": ".1f", "domain": false, "offset": -71, "tickColor": "#555", "tickWidth": 1.2, "tickSize": 5, "labelFontSize": 16, "labelColor": "#222", "labelPadding": 3, "zindex": 1, "labelOverlap": false, "title": "Saline N", "titleAngle": 0, "titleAlign": "right", "titleBaseline": "middle", "titleX": -83, "titleY": 136, "titleFontSize": 24, "titleFontWeight": "normal", "titleColor": "#444"}}, "y2": {"datum": -5.83}}},
  {"data": {"values": [{}]}, "mark": {"type": "rule", "stroke": "#555", "strokeWidth": 1.5}, "encoding": {"x": {"datum": 3.26}, "x2": {"datum": 12}, "y": {"datum": -5.83}}},
  {"data": {"name": "scatter"}, "transform": [{"filter": "datum.outcome === 'Burrowing' && datum.moderator === 'Saline N'"}], "mark": {"type": "circle", "stroke": "#555", "strokeWidth": 1, "opacity": 1},
   "encoding": {"x": {"field": "x", "type": "quantitative"}, "y": {"field": "g", "type": "quantitative"},
    "fill": {"field": "g", "type": "quantitative", "scale": {"domain": [-5.83, 0], "range": ["#7b2a8c", "#ffffff"], "interpolate": "lab", "clamp": true}, "legend": {"orient": "none", "direction": "vertical", "legendX": 25.8, "legendY": 1.7, "gradientLength": 288.3, "gradientThickness": 44.7, "title": null, "labelExpr": "''", "gradientStrokeWidth": 0, "padding": 0, "zindex": 0}},
    "size": {"field": "n", "type": "quantitative", "scale": {"domain": [0, 40], "range": [0, 1060]}, "legend": null}}},
  {"data": {"name": "fits"}, "transform": [{"filter": "datum.outcome === 'Burrowing' && datum.moderator === 'Saline N'"}], "mark": {"type": "line", "stroke": "#555", "strokeWidth": 1.5}, "encoding": {"x": {"field": "x", "type": "quantitative"}, "y": {"field": "g", "type": "quantitative"}}}
 ]},
{"width": 352, "height": 290,
 "title": {"text": "E", "anchor": "start", "frame": "group", "fontSize": 48, "fontWeight": "normal", "color": "#000", "dx": 4, "dy": 43, "offset": 3, "baseline": "alphabetic"},
 "layer": [
  {"data": {"values": [{}]}, "mark": {"type": "rule", "stroke": "#555", "strokeWidth": 1.5}, "encoding": {"x": {"datum": 4.66, "type": "quantitative", "scale": {"domain": [2.676, 12.511], "nice": false, "zero": false}, "axis": {"values": [6,8,10,12], "format": "d", "tickCount": 30, "title": null, "domain": false, "tickColor": "#555", "tickWidth": 1.2, "tickSize": 5, "labelFontSize": 16, "labelColor": "#222", "labelPadding": 3, "zindex": 1, "labelFlush": false, "labelOverlap": false}}, "y": {"datum": 0.5, "type": "quantitative", "scale": {"domain": [-2.846, 0.779], "nice": false, "zero": false}, "axis": {"values": [0.5,0,-0.5,-1,-1.5,-2,-2.5], "tickCount": 30, "format": ".1f", "domain": false, "offset": -71, "tickColor": "#555", "tickWidth": 1.2, "tickSize": 5, "labelFontSize": 16, "labelColor": "#222", "labelPadding": 3, "zindex": 1, "labelOverlap": false, "title": null}}, "y2": {"datum": -2.846}}},
  {"data": {"values": [{}]}, "mark": {"type": "rule", "stroke": "#555", "strokeWidth": 1.5}, "encoding": {"x": {"datum": 4.66}, "x2": {"datum": 12}, "y": {"datum": -2.846}}},
  {"data": {"name": "scatter"}, "transform": [{"filter": "datum.outcome === 'EPM' && datum.moderator === 'Saline N'"}], "mark": {"type": "circle", "stroke": "#555", "strokeWidth": 1, "opacity": 1},
   "encoding": {"x": {"field": "x", "type": "quantitative"}, "y": {"field": "g", "type": "quantitative"},
    "fill": {"field": "g", "type": "quantitative", "scale": {"domain": [-2.68, 0, 0.61], "range": ["#7b2a8c", "#ffffff", "#d4fad0"], "interpolate": "lab", "clamp": true}, "legend": {"orient": "none", "direction": "vertical", "legendX": 34.8, "legendY": 13.5, "gradientLength": 263.2, "gradientThickness": 35.6, "title": null, "labelExpr": "''", "gradientStrokeWidth": 0, "padding": 0, "zindex": 0}},
    "size": {"field": "n", "type": "quantitative", "scale": {"domain": [0, 40], "range": [0, 1060]}, "legend": null}}},
  {"data": {"name": "fits"}, "transform": [{"filter": "datum.outcome === 'EPM' && datum.moderator === 'Saline N'"}], "mark": {"type": "line", "stroke": "#555", "strokeWidth": 1.5}, "encoding": {"x": {"field": "x", "type": "quantitative"}, "y": {"field": "g", "type": "quantitative"}}}
 ]},
{"width": 352, "height": 290,
 "title": {"text": "F", "anchor": "start", "frame": "group", "fontSize": 48, "fontWeight": "normal", "color": "#000", "dx": 7, "dy": 43, "offset": 3, "baseline": "alphabetic"},
 "layer": [
  {"data": {"values": [{}]}, "mark": {"type": "rule", "stroke": "#555", "strokeWidth": 1.5}, "encoding": {"x": {"datum": 4.32, "type": "quantitative", "scale": {"domain": [-0.609, 24.07], "nice": false, "zero": false}, "axis": {"values": [6,12,18,24], "format": "d", "tickCount": 30, "title": null, "domain": false, "tickColor": "#555", "tickWidth": 1.2, "tickSize": 5, "labelFontSize": 16, "labelColor": "#222", "labelPadding": 3, "zindex": 1, "labelFlush": false, "labelOverlap": false}}, "y": {"datum": 2, "type": "quantitative", "scale": {"domain": [-1.43, 2.3], "nice": false, "zero": false}, "axis": {"values": [2,1.5,1,0.5,0,-0.5,-1], "tickCount": 30, "format": ".1f", "domain": false, "offset": -70.3, "tickColor": "#555", "tickWidth": 1.2, "tickSize": 5, "labelFontSize": 16, "labelColor": "#222", "labelPadding": 3, "zindex": 1, "labelOverlap": false, "title": null}}, "y2": {"datum": -1.43}}},
  {"data": {"values": [{}]}, "mark": {"type": "rule", "stroke": "#555", "strokeWidth": 1.5}, "encoding": {"x": {"datum": 4.32}, "x2": {"datum": 24}, "y": {"datum": -1.43}}},
  {"data": {"name": "scatter"}, "transform": [{"filter": "datum.outcome === 'FST' && datum.moderator === 'Saline N'"}], "mark": {"type": "circle", "stroke": "#555", "strokeWidth": 1, "opacity": 1},
   "encoding": {"x": {"field": "x", "type": "quantitative"}, "y": {"field": "g", "type": "quantitative"},
    "fill": {"field": "g", "type": "quantitative", "scale": {"domain": [-1.27, 0, 2.13], "range": ["#ab7bb4", "#ffffff", "#00f042"], "interpolate": "lab", "clamp": true}, "legend": {"orient": "none", "direction": "vertical", "legendX": 33.1, "legendY": 13.2, "gradientLength": 264.4, "gradientThickness": 36.6, "title": null, "labelExpr": "''", "gradientStrokeWidth": 0, "padding": 0, "zindex": 0}},
    "size": {"field": "n", "type": "quantitative", "scale": {"domain": [0, 40], "range": [0, 1060]}, "legend": null}}},
  {"data": {"name": "fits"}, "transform": [{"filter": "datum.outcome === 'FST' && datum.moderator === 'Saline N'"}], "mark": {"type": "line", "stroke": "#555", "strokeWidth": 1.5}, "encoding": {"x": {"field": "x", "type": "quantitative"}, "y": {"field": "g", "type": "quantitative"}}}
 ]},
{"width": 10, "height": 31, "data": {"values": [{}]}, "mark": {"type": "point", "opacity": 0}},
{"width": 10, "height": 31, "data": {"values": [{}]}, "mark": {"type": "point", "opacity": 0}},
{"width": 10, "height": 31, "data": {"values": [{}]}, "mark": {"type": "point", "opacity": 0}},
{"width": 352, "height": 290,
 "layer": [
  {"data": {"values": [{}]}, "mark": {"type": "rule", "stroke": "#555", "strokeWidth": 1.5}, "encoding": {"x": {"datum": 0.952, "type": "quantitative", "scale": {"domain": [0.6688, 2.0729], "nice": false, "zero": false}, "axis": {"values": [1,2], "format": "d", "tickCount": 30, "title": null, "domain": false, "tickColor": "#555", "tickWidth": 1.2, "tickSize": 5, "labelFontSize": 16, "labelColor": "#222", "labelPadding": 3, "zindex": 1, "labelFlush": false, "labelOverlap": false}}, "y": {"datum": 0, "type": "quantitative", "scale": {"domain": [-5.83, 0.034], "nice": false, "zero": false}, "axis": {"values": [0,-0.5,-1,-1.5,-2,-2.5,-3,-3.5,-4,-4.5,-5,-5.5], "tickCount": 30, "format": ".1f", "domain": false, "offset": -71, "tickColor": "#555", "tickWidth": 1.2, "tickSize": 5, "labelFontSize": 16, "labelColor": "#222", "labelPadding": 3, "zindex": 1, "labelOverlap": false, "title": "Time Point (Days)", "titleAngle": 0, "titleAlign": "right", "titleBaseline": "middle", "titleX": -83, "titleY": 136, "titleFontSize": 24, "titleFontWeight": "normal", "titleColor": "#444"}}, "y2": {"datum": -5.83}}},
  {"data": {"values": [{}]}, "mark": {"type": "rule", "stroke": "#555", "strokeWidth": 1.5}, "encoding": {"x": {"datum": 0.952}, "x2": {"datum": 2}, "y": {"datum": -5.83}}},
  {"data": {"name": "scatter"}, "transform": [{"filter": "datum.outcome === 'Burrowing' && datum.moderator === 'Time Point'"}], "mark": {"type": "circle", "stroke": "#555", "strokeWidth": 1, "opacity": 1},
   "encoding": {"x": {"field": "x", "type": "quantitative"}, "y": {"field": "g", "type": "quantitative"},
    "fill": {"field": "g", "type": "quantitative", "scale": {"domain": [-5.83, 0], "range": ["#7b2a8c", "#ffffff"], "interpolate": "lab", "clamp": true}, "legend": {"orient": "none", "direction": "vertical", "legendX": 25.8, "legendY": 1.7, "gradientLength": 288.3, "gradientThickness": 44.7, "title": null, "labelExpr": "''", "gradientStrokeWidth": 0, "padding": 0, "zindex": 0}},
    "size": {"field": "n", "type": "quantitative", "scale": {"domain": [0, 40], "range": [0, 1060]}, "legend": null}}},
  {"data": {"name": "fits"}, "transform": [{"filter": "datum.outcome === 'Burrowing' && datum.moderator === 'Time Point'"}], "mark": {"type": "line", "stroke": "#555", "strokeWidth": 1.5}, "encoding": {"x": {"field": "x", "type": "quantitative"}, "y": {"field": "g", "type": "quantitative"}}}
 ]},
{"width": 352, "height": 290,
 "layer": [
  {"data": {"values": [{}]}, "mark": {"type": "rule", "stroke": "#555", "strokeWidth": 1.5}, "encoding": {"x": {"datum": -0.98, "type": "quantitative", "scale": {"domain": [-12.596, 44.996], "nice": false, "zero": false}, "axis": {"values": [0,7,14,21,28,35,42], "format": "d", "tickCount": 30, "title": null, "domain": false, "tickColor": "#555", "tickWidth": 1.2, "tickSize": 5, "labelFontSize": 16, "labelColor": "#222", "labelPadding": 3, "zindex": 1, "labelFlush": false, "labelOverlap": false}}, "y": {"datum": 0.5, "type": "quantitative", "scale": {"domain": [-2.846, 0.779], "nice": false, "zero": false}, "axis": {"values": [0.5,0,-0.5,-1,-1.5,-2,-2.5], "tickCount": 30, "format": ".1f", "domain": false, "offset": -71, "tickColor": "#555", "tickWidth": 1.2, "tickSize": 5, "labelFontSize": 16, "labelColor": "#222", "labelPadding": 3, "zindex": 1, "labelOverlap": false, "title": null}}, "y2": {"datum": -2.846}}},
  {"data": {"values": [{}]}, "mark": {"type": "rule", "stroke": "#555", "strokeWidth": 1.5}, "encoding": {"x": {"datum": -0.98}, "x2": {"datum": 42}, "y": {"datum": -2.846}}},
  {"data": {"name": "scatter"}, "transform": [{"filter": "datum.outcome === 'EPM' && datum.moderator === 'Time Point'"}], "mark": {"type": "circle", "stroke": "#555", "strokeWidth": 1, "opacity": 1},
   "encoding": {"x": {"field": "x", "type": "quantitative"}, "y": {"field": "g", "type": "quantitative"},
    "fill": {"field": "g", "type": "quantitative", "scale": {"domain": [-2.68, 0, 0.61], "range": ["#7b2a8c", "#ffffff", "#d4fad0"], "interpolate": "lab", "clamp": true}, "legend": {"orient": "none", "direction": "vertical", "legendX": 34.8, "legendY": 13.5, "gradientLength": 263.2, "gradientThickness": 35.6, "title": null, "labelExpr": "''", "gradientStrokeWidth": 0, "padding": 0, "zindex": 0}},
    "size": {"field": "n", "type": "quantitative", "scale": {"domain": [0, 40], "range": [0, 1060]}, "legend": null}}},
  {"data": {"name": "fits"}, "transform": [{"filter": "datum.outcome === 'EPM' && datum.moderator === 'Time Point'"}], "mark": {"type": "line", "stroke": "#555", "strokeWidth": 1.5}, "encoding": {"x": {"field": "x", "type": "quantitative"}, "y": {"field": "g", "type": "quantitative"}}}
 ]},
{"width": 352, "height": 290,
 "layer": [
  {"data": {"values": [{}]}, "mark": {"type": "rule", "stroke": "#555", "strokeWidth": 1.5}, "encoding": {"x": {"datum": 5.23, "type": "quantitative", "scale": {"domain": [-4.584, 44.56], "nice": false, "zero": false}, "axis": {"values": [7,14,21,28,35,42], "format": "d", "tickCount": 30, "title": null, "domain": false, "tickColor": "#555", "tickWidth": 1.2, "tickSize": 5, "labelFontSize": 16, "labelColor": "#222", "labelPadding": 3, "zindex": 1, "labelFlush": false, "labelOverlap": false}}, "y": {"datum": 2, "type": "quantitative", "scale": {"domain": [-1.43, 2.3], "nice": false, "zero": false}, "axis": {"values": [2,1.5,1,0.5,0,-0.5,-1], "tickCount": 30, "format": ".1f", "domain": false, "offset": -70.3, "tickColor": "#555", "tickWidth": 1.2, "tickSize": 5, "labelFontSize": 16, "labelColor": "#222", "labelPadding": 3, "zindex": 1, "labelOverlap": false, "title": null}}, "y2": {"datum": -1.43}}},
  {"data": {"values": [{}]}, "mark": {"type": "rule", "stroke": "#555", "strokeWidth": 1.5}, "encoding": {"x": {"datum": 5.23}, "x2": {"datum": 42}, "y": {"datum": -1.43}}},
  {"data": {"name": "scatter"}, "transform": [{"filter": "datum.outcome === 'FST' && datum.moderator === 'Time Point'"}], "mark": {"type": "circle", "stroke": "#555", "strokeWidth": 1, "opacity": 1},
   "encoding": {"x": {"field": "x", "type": "quantitative"}, "y": {"field": "g", "type": "quantitative"},
    "fill": {"field": "g", "type": "quantitative", "scale": {"domain": [-1.27, 0, 2.13], "range": ["#ab7bb4", "#ffffff", "#00f042"], "interpolate": "lab", "clamp": true}, "legend": {"orient": "none", "direction": "vertical", "legendX": 33.1, "legendY": 13.2, "gradientLength": 264.4, "gradientThickness": 36.6, "title": null, "labelExpr": "''", "gradientStrokeWidth": 0, "padding": 0, "zindex": 0}},
    "size": {"field": "n", "type": "quantitative", "scale": {"domain": [0, 40], "range": [0, 1060]}, "legend": null}}},
  {"data": {"name": "fits"}, "transform": [{"filter": "datum.outcome === 'FST' && datum.moderator === 'Time Point'"}], "mark": {"type": "line", "stroke": "#555", "strokeWidth": 1.5}, "encoding": {"x": {"field": "x", "type": "quantitative"}, "y": {"field": "g", "type": "quantitative"}}}
 ]},
{"width": 10, "height": 27, "data": {"values": [{}]}, "mark": {"type": "point", "opacity": 0}},
{"width": 10, "height": 27, "data": {"values": [{}]}, "mark": {"type": "point", "opacity": 0}},
{"width": 10, "height": 27, "data": {"values": [{}]}, "mark": {"type": "point", "opacity": 0}},
{"width": 352, "height": 290,
 "layer": [
  {"data": {"values": [{}]}, "mark": {"type": "rule", "stroke": "#555", "strokeWidth": 1.5}, "encoding": {"x": {"datum": 3.3, "type": "quantitative", "scale": {"domain": [-36.36, 160.29], "nice": false, "zero": false}, "axis": {"values": [25,50,75,100,125,150], "format": "d", "tickCount": 30, "title": null, "domain": false, "tickColor": "#555", "tickWidth": 1.2, "tickSize": 5, "labelFontSize": 16, "labelColor": "#222", "labelPadding": 2, "zindex": 1, "labelFlush": false, "labelOverlap": false}}, "y": {"datum": 0, "type": "quantitative", "scale": {"domain": [-5.83, 0.034], "nice": false, "zero": false}, "axis": {"values": [0,-0.5,-1,-1.5,-2,-2.5,-3,-3.5,-4,-4.5,-5,-5.5], "tickCount": 30, "format": ".1f", "domain": false, "offset": -71, "tickColor": "#555", "tickWidth": 1.2, "tickSize": 5, "labelFontSize": 16, "labelColor": "#222", "labelPadding": 3, "zindex": 1, "labelOverlap": false, "title": "CFA (µg)", "titleAngle": 0, "titleAlign": "right", "titleBaseline": "middle", "titleX": -83, "titleY": 136, "titleFontSize": 24, "titleFontWeight": "normal", "titleColor": "#444"}}, "y2": {"datum": -5.83}}},
  {"data": {"values": [{}]}, "mark": {"type": "rule", "stroke": "#555", "strokeWidth": 1.5}, "encoding": {"x": {"datum": 3.3}, "x2": {"datum": 150}, "y": {"datum": -5.83}}},
  {"data": {"name": "scatter"}, "transform": [{"filter": "datum.outcome === 'Burrowing' && datum.moderator === 'CFA'"}], "mark": {"type": "circle", "stroke": "#555", "strokeWidth": 1, "opacity": 1},
   "encoding": {"x": {"field": "x", "type": "quantitative"}, "y": {"field": "g", "type": "quantitative"},
    "fill": {"field": "g", "type": "quantitative", "scale": {"domain": [-5.83, 0], "range": ["#7b2a8c", "#ffffff"], "interpolate": "lab", "clamp": true}, "legend": {"orient": "none", "direction": "vertical", "legendX": 25.8, "legendY": 1.7, "gradientLength": 288.3, "gradientThickness": 44.7, "title": null, "labelExpr": "''", "gradientStrokeWidth": 0, "padding": 0, "zindex": 0}},
    "size": {"field": "n", "type": "quantitative", "scale": {"domain": [0, 40], "range": [0, 1060]}, "legend": null}}},
  {"data": {"name": "fits"}, "transform": [{"filter": "datum.outcome === 'Burrowing' && datum.moderator === 'CFA'"}], "mark": {"type": "line", "stroke": "#555", "strokeWidth": 1.5}, "encoding": {"x": {"field": "x", "type": "quantitative"}, "y": {"field": "g", "type": "quantitative"}}}
 ]},
{"width": 352, "height": 290,
 "layer": [
  {"data": {"values": [{}]}, "mark": {"type": "rule", "stroke": "#555", "strokeWidth": 1.5}, "encoding": {"x": {"datum": -4.6, "type": "quantitative", "scale": {"domain": [-59.84, 214.0], "nice": false, "zero": false}, "axis": {"values": [0,50,100,150,200], "format": "d", "tickCount": 30, "title": null, "domain": false, "tickColor": "#555", "tickWidth": 1.2, "tickSize": 5, "labelFontSize": 16, "labelColor": "#222", "labelPadding": 2, "zindex": 1, "labelFlush": false, "labelOverlap": false}}, "y": {"datum": 0.5, "type": "quantitative", "scale": {"domain": [-2.846, 0.779], "nice": false, "zero": false}, "axis": {"values": [0.5,0,-0.5,-1,-1.5,-2,-2.5], "tickCount": 30, "format": ".1f", "domain": false, "offset": -71, "tickColor": "#555", "tickWidth": 1.2, "tickSize": 5, "labelFontSize": 16, "labelColor": "#222", "labelPadding": 3, "zindex": 1, "labelOverlap": false, "title": null}}, "y2": {"datum": -2.846}}},
  {"data": {"values": [{}]}, "mark": {"type": "rule", "stroke": "#555", "strokeWidth": 1.5}, "encoding": {"x": {"datum": -4.6}, "x2": {"datum": 200}, "y": {"datum": -2.846}}},
  {"data": {"name": "scatter"}, "transform": [{"filter": "datum.outcome === 'EPM' && datum.moderator === 'CFA'"}], "mark": {"type": "circle", "stroke": "#555", "strokeWidth": 1, "opacity": 1},
   "encoding": {"x": {"field": "x", "type": "quantitative"}, "y": {"field": "g", "type": "quantitative"},
    "fill": {"field": "g", "type": "quantitative", "scale": {"domain": [-2.68, 0, 0.61], "range": ["#7b2a8c", "#ffffff", "#d4fad0"], "interpolate": "lab", "clamp": true}, "legend": {"orient": "none", "direction": "vertical", "legendX": 34.8, "legendY": 13.5, "gradientLength": 263.2, "gradientThickness": 35.6, "title": null, "labelExpr": "''", "gradientStrokeWidth": 0, "padding": 0, "zindex": 0}},
    "size": {"field": "n", "type": "quantitative", "scale": {"domain": [0, 40], "range": [0, 1060]}, "legend": null}}},
  {"data": {"name": "fits"}, "transform": [{"filter": "datum.outcome === 'EPM' && datum.moderator === 'CFA'"}], "mark": {"type": "line", "stroke": "#555", "strokeWidth": 1.5}, "encoding": {"x": {"field": "x", "type": "quantitative"}, "y": {"field": "g", "type": "quantitative"}}}
 ]},
{"width": 352, "height": 290,
 "layer": [
  {"data": {"values": [{}]}, "mark": {"type": "rule", "stroke": "#555", "strokeWidth": 1.5}, "encoding": {"x": {"datum": -0.49, "type": "quantitative", "scale": {"domain": [-27.35, 107.15], "nice": false, "zero": false}, "axis": {"values": [25,50,75,100], "format": "d", "tickCount": 30, "title": null, "domain": false, "tickColor": "#555", "tickWidth": 1.2, "tickSize": 5, "labelFontSize": 16, "labelColor": "#222", "labelPadding": 2, "zindex": 1, "labelFlush": false, "labelOverlap": false}}, "y": {"datum": 2, "type": "quantitative", "scale": {"domain": [-1.43, 2.3], "nice": false, "zero": false}, "axis": {"values": [2,1.5,1,0.5,0,-0.5,-1], "tickCount": 30, "format": ".1f", "domain": false, "offset": -70.3, "tickColor": "#555", "tickWidth": 1.2, "tickSize": 5, "labelFontSize": 16, "labelColor": "#222", "labelPadding": 3, "zindex": 1, "labelOverlap": false, "title": null}}, "y2": {"datum": -1.43}}},
  {"data": {"values": [{}]}, "mark": {"type": "rule", "stroke": "#555", "strokeWidth": 1.5}, "encoding": {"x": {"datum": -0.49}, "x2": {"datum": 100}, "y": {"datum": -1.43}}},
  {"data": {"name": "scatter"}, "transform": [{"filter": "datum.outcome === 'FST' && datum.moderator === 'CFA'"}], "mark": {"type": "circle", "stroke": "#555", "strokeWidth": 1, "opacity": 1},
   "encoding": {"x": {"field": "x", "type": "quantitative"}, "y": {"field": "g", "type": "quantitative"},
    "fill": {"field": "g", "type": "quantitative", "scale": {"domain": [-1.27, 0, 2.13], "range": ["#ab7bb4", "#ffffff", "#00f042"], "interpolate": "lab", "clamp": true}, "legend": {"orient": "none", "direction": "vertical", "legendX": 33.1, "legendY": 13.2, "gradientLength": 264.4, "gradientThickness": 36.6, "title": null, "labelExpr": "''", "gradientStrokeWidth": 0, "padding": 0, "zindex": 0}},
    "size": {"field": "n", "type": "quantitative", "scale": {"domain": [0, 40], "range": [0, 1060]}, "legend": null}}},
  {"data": {"name": "fits"}, "transform": [{"filter": "datum.outcome === 'FST' && datum.moderator === 'CFA'"}], "mark": {"type": "line", "stroke": "#555", "strokeWidth": 1.5}, "encoding": {"x": {"field": "x", "type": "quantitative"}, "y": {"field": "g", "type": "quantitative"}}}
 ]}
]
}
